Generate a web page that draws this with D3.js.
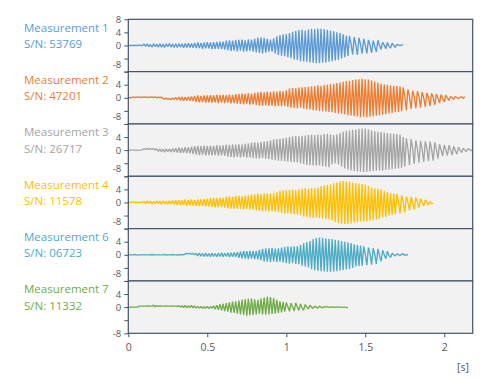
<!DOCTYPE html>
<html><head><meta charset="utf-8">
<script src="https://cdn.jsdelivr.net/npm/d3@7"></script>
<style>body{margin:0;background:#fff}svg{display:block}</style>
</head><body><svg id="c" width="491" height="378"></svg>
<script>
// ---- data ----
const seriesNames = ["Measurement 1","Measurement 2","Measurement 3","Measurement 4","Measurement 6","Measurement 7"];
const serialNumbers = ["53769","47201","26717","11578","06723","11332"];
const seriesColors = ["#5B9BD5","#ED7D31","#A5A5A5","#FFC000","#4BACC6","#70AD47"];
const sampleStep = 0.01; // seconds between read samples
const xTicks = [0,0.5,1,1.5,2];
const yTicks = [-8,-4,0,4,8];

const m1 = [0,0,0,0,0,0.1,-0.1,0.2,-0.1,0.1,
0.4,-0.3,0.5,-0.4,0.3,-0.5,0.5,-0.4,0.4,-0.5,
0.5,-0.5,0.4,-0.6,0.5,-0.4,0.6,-0.5,0.4,-0.6,
0.5,-0.6,0.6,-0.5,0.5,-0.7,0.6,-0.6,0.7,-0.6,
0.6,-0.7,0.8,-0.8,0.9,-0.8,0.8,-1.0,0.9,-0.9,
1.0,-0.9,0.9,-1.1,1.0,-1.0,1.1,-1.0,1.2,-1.1,
1.2,-1.3,1.5,-1.4,1.6,-1.7,1.5,-1.6,1.7,-1.8,
1.7,-1.6,1.8,-1.9,1.6,-1.8,1.9,-1.7,1.8,-1.9,
2.0,-2.1,2.4,-2.3,2.5,-2.4,2.3,-2.2,2.0,-1.9,
1.8,-1.9,2.2,-2.4,2.8,-2.9,3.2,-3.1,3.4,-3.3,
3.5,-3.6,3.8,-3.9,4.2,-4.3,4.5,-4.4,4.7,-4.8,
4.8,-4.9,4.6,-5.0,4.9,-5.2,5.1,-5.3,5.0,-5.4,
5.2,-5.4,5.1,-5.3,5.0,-5.2,4.8,-5.0,4.6,-4.8,
4.3,-4.6,4.0,-4.4,3.8,-4.0,3.4,-3.6,3.0,-3.2,
2.9,0.5,-2.8,2.6,0.2,-2.9,2.4,0.3,-2.5,2.0,
0.1,-2.4,1.7,0.2,-2.3,1.5,-0.2,-2.0,1.6,0.0,
-1.2,1.0,0.1,-1.0,0.9,-0.2,-0.8,0.7,0.0,-0.6,
0.3,0.2,-0.1,0.2,0.2];

const m2 = [0,0.1,0,0.3,0,0.3,0.1,0.3,0,0.3,
0.1,0.3,0,0.3,0.1,0.3,0,0.3,0,0.2,
0.1,0.2,-0.2,-0.4,-0.1,-0.5,-0.2,-0.6,-0.1,-0.5,
0.1,-0.6,0.2,-0.8,0.3,-0.9,0.2,-0.8,0.3,-0.9,
0.4,-1.0,0.6,-1.2,0.7,-1.4,0.6,-1.3,0.7,-1.5,
0.7,-1.4,0.8,-1.5,0.7,-1.4,0.9,-1.6,0.8,-1.5,
0.9,-1.6,0.8,-1.5,1.0,-1.7,0.9,-1.6,1.1,-1.8,
1.2,-1.9,1.3,-2.0,1.2,-1.8,1.4,-2.1,1.3,-2.0,
1.5,-2.2,1.7,-2.4,1.8,-2.5,1.7,-2.3,1.9,-2.5,
1.8,-2.4,2.0,-2.6,1.9,-2.5,2.1,-2.6,2.0,-2.5,
2.3,-2.8,2.8,-3.0,3.0,-3.1,2.9,-3.2,3.1,-3.0,
3.2,-3.3,3.3,-3.5,3.4,-3.6,3.5,-3.8,3.6,-3.9,
3.8,-4.0,3.7,-4.1,3.9,-4.2,4.0,-4.3,4.2,-4.4,
4.3,-4.6,4.5,-4.8,4.7,-4.9,4.9,-5.1,5.1,-5.3,
5.2,-5.4,5.4,-5.6,5.6,-5.8,5.7,-5.9,5.8,-5.8,
5.7,-5.9,5.6,-5.8,5.3,-5.6,5.0,-5.5,4.6,-5.3,
4.3,-5.2,4.1,-5.0,4.0,-4.8,3.8,-4.6,3.7,-4.4,
3.6,-4.3,3.5,-4.1,3.2,0.5,-3.8,2.6,0.3,-3.4,
2.2,0.2,-3.2,2.0,0.4,-3.0,1.8,0.0,-2.8,1.5,
0.2,-2.5,1.4,0.0,-2.2,1.2,-0.1,-1.6,1.0,-0.2,
-1.2,0.8,0.0,-0.8,0.4,0.1,-0.5,0.4,0.1,-0.3,
0.2,0.3,-0.1,0.3];

const m3 = [0,0,0,0,0,0,0,0,0,0.1,
0.5,0.2,0.6,0.1,0.5,0.2,0.6,0.0,0.4,-0.4,
0.4,-0.5,0.3,-0.6,0.4,-0.5,0.3,-0.6,0.5,-0.6,
0.6,-0.7,0.8,-0.9,0.7,-0.8,0.9,-0.9,0.8,-1.0,
1.0,-1.2,1.2,-1.4,1.3,-1.5,1.2,-1.4,1.4,-1.6,
1.3,-1.5,1.4,-1.6,1.3,-1.5,1.5,-1.7,1.4,-1.6,
1.5,-1.8,1.7,-2.0,1.6,-2.1,1.8,-2.2,1.7,-2.1,
1.8,-2.2,1.7,-2.1,1.9,-2.3,2.0,-2.2,2.3,-2.4,
2.4,-2.5,2.3,-2.6,2.5,-2.4,2.6,-2.6,2.8,-2.7,
3.0,-2.9,3.3,-3.1,3.4,-3.2,3.5,-3.3,3.6,-3.4,
3.8,-3.5,4.0,-3.6,4.2,-3.7,4.3,-3.8,4.2,-4.0,
4.4,-4.2,4.5,-4.5,4.6,-4.6,4.7,-4.7,4.6,-4.8,
4.8,-4.7,4.7,-4.9,4.9,-5.0,5.0,-5.2,4.8,-4.3,
4.6,-4.0,4.8,-4.4,5.2,-5.0,5.6,-5.6,5.9,-6.0,
6.0,-6.2,6.2,-6.4,6.3,-6.5,6.5,-6.6,6.6,-6.7,
6.5,-6.6,6.3,-6.5,6.0,-6.4,5.8,-6.3,5.6,-6.2,
5.5,-6.3,5.4,-6.1,5.2,-6.0,5.1,-5.8,5.0,-5.7,
4.9,-5.6,4.8,-5.4,4.0,-5.0,3.6,0.4,-4.6,3.4,
0.5,-4.2,3.0,0.3,-3.8,2.8,0.2,-3.6,2.7,0.4,
-3.4,2.6,0.1,-3.2,2.4,0.3,-2.6,1.8,0.0,-1.8,
1.6,0.1,-1.7,1.5,0.0,-1.5,1.2,-0.2,-1.2,0.9,
0.0,-0.7,0.6,0.0,-0.4,0.5,0.2,-0.2,0.3];

const m4 = [0,0,0,0.3,0,0,0,0,0,0.1,
0.3,-0.4,0.5,-0.3,0.4,-0.5,0.3,-0.4,0.5,-0.4,
0.4,-0.5,0.5,-0.4,0.4,-0.6,0.5,-0.5,0.6,-0.6,
0.7,-0.8,0.8,-0.9,0.7,-0.8,0.9,-1.0,0.8,-0.9,
0.9,-1.0,0.8,-1.0,0.9,-1.1,1.0,-1.0,1.1,-1.2,
1.2,-1.3,1.4,-1.4,1.3,-1.5,1.4,-1.5,1.5,-1.4,
1.4,-1.6,1.7,-1.8,1.9,-1.9,1.8,-2.0,2.0,-1.9,
2.0,-2.0,1.9,-2.1,2.1,-2.0,2.2,-2.1,2.4,-2.3,
2.5,-2.4,2.7,-2.6,2.6,-2.7,2.8,-2.6,2.7,-2.8,
2.8,-2.7,2.9,-2.8,3.2,-3.0,3.6,-3.2,3.8,-3.4,
3.7,-3.3,3.8,-3.5,3.9,-3.6,3.8,-3.7,4.0,-3.9,
4.2,-4.3,4.3,-4.5,4.2,-4.6,4.4,-4.7,4.3,-4.6,
4.6,-4.8,5.0,-5.0,5.2,-5.1,5.3,-5.2,5.5,-5.6,
5.9,-6.0,6.2,-6.3,6.5,-6.5,6.6,-6.6,6.5,-6.6,
6.3,-6.4,6.1,-6.2,5.9,-6.0,5.8,-5.9,5.6,-5.9,
5.4,-5.8,5.0,-5.6,4.6,-5.4,4.3,-5.2,4.2,-5.0,
4.0,-4.6,3.6,-4.4,3.2,-4.0,2.9,-3.8,2.7,-3.6,
2.6,0.2,-3.4,2.2,0.3,-3.0,1.8,0.1,-2.4,1.7,
0.0,-2.2,1.5,0.2,-1.6,1.2,-0.1,-1.0,0.8,0.0,
-0.8,0.3,-0.4,-0.2];

const m6 = [0,0,0,0,0.1,-0.1,0,0,0,0,
0,0,0,0,0,0.1,0,0,0,0,
0,0,0,0.1,-0.1,0,0,0,0.1,0,
0,-0.1,0.1,-0.1,0.1,0,0.2,0.4,0.3,0.4,
0.2,0.4,0.0,0.4,-0.3,0.5,-0.4,0.4,-0.5,0.5,
-0.5,0.4,-0.6,0.5,-0.5,0.4,-0.6,0.5,-0.5,0.6,
-0.6,0.5,-0.5,0.6,-0.7,0.6,-0.6,0.7,-0.6,0.8,
-0.9,1.0,-1.1,1.2,-1.2,1.1,-1.3,1.2,-1.2,1.1,
-1.3,1.2,-1.4,1.5,-1.6,1.8,-2.0,2.0,-2.1,2.0,
-2.2,2.1,-2.0,1.9,-2.2,2.0,-2.1,2.2,-2.3,2.4,
-2.5,2.6,-2.7,2.5,-2.6,2.6,-2.8,2.7,-2.9,3.0,
-3.3,3.5,-3.6,3.8,-3.9,4.2,-4.4,4.8,-4.7,5.1,
-4.9,5.3,-5.0,5.2,-5.1,5.0,-5.2,4.9,-5.2,4.8,
-5.1,4.6,-5.0,4.4,-4.8,4.2,-4.6,4.0,-4.5,3.8,
-4.3,3.6,-4.0,3.2,-3.6,3.0,-3.4,2.8,-3.3,2.6,
0.2,-3.2,2.2,0.4,-3.0,2.0,0.1,-2.8,1.8,-0.2,
-2.0,1.4,0.0,-1.2,1.1,-0.2,-0.8,0.5,0.1,-0.4,
0.3,0.1,-0.3,0.2,0.3,-0.2,0.1,0.0];

const m7 = [0,0,0,0,0,0,0,0.3,0.3,0.3,
0.3,0.3,0.3,0.4,0.3,0.3,0.6,0.1,0.5,0.2,
0.4,0.3,0.3,0.3,0.4,0.3,0.3,0.3,0.4,0.3,
0.3,0.2,0.5,0.0,0.4,-0.1,0.5,-0.2,0.4,-0.1,
0.5,-0.2,0.4,-0.3,0.2,-0.3,0.2,-0.4,0.1,-0.3,
0.2,-0.4,0.1,-0.3,0.4,-0.6,0.6,-0.8,0.9,-1.0,
1.0,-1.2,1.2,-1.4,1.5,-1.7,1.7,-1.8,1.8,-2.0,
2.0,-2.2,2.3,-2.4,2.5,-2.6,2.6,-2.5,2.7,-2.4,
2.4,-2.2,2.2,-2.0,2.6,-2.2,2.9,-2.3,3.2,-2.2,
3.1,-2.1,2.8,-2.0,2.2,-1.8,1.8,-1.6,1.6,-1.4,
1.4,0.2,-1.3,1.2,0.1,-1.2,1.3,0.0,-1.0,1.0,
-0.2,-0.9,0.8,0.0,-0.6,0.6,0.0,-0.4,0.3,0.0,
-0.3,0.3,0.0,-0.2,0.1,0.0,0.2,-0.1,0.0,0.1,
0.0,-0.1,0.0,0.1,0.0,-0.1,0.0,0.0,-0.1,-0.1];

const seriesValues = [m1,m2,m3,m4,m6,m7];

// ---- layout ----
const svg = d3.select("#c");
const plotLeft = 128.3, plotRight = 472.7, plotTop = 19.3, plotBottom = 333.3;
const nPanels = seriesValues.length;
const panelH = (plotBottom - plotTop) / nPanels;
const FONT = "'Open Sans', 'Segoe UI', sans-serif";
const axisColor = "#44546A", labelColor = "#595959";

const x = d3.scaleLinear().domain([0, 2.18]).range([plotLeft, plotRight]);

seriesValues.forEach((vals, k) => {
  const top = plotTop + k * panelH;
  const y = d3.scaleLinear().domain([-8, 8]).range([top + panelH, top]);
  const g = svg.append("g");

  g.append("rect").attr("x", plotLeft).attr("y", top)
    .attr("width", plotRight - plotLeft).attr("height", panelH)
    .attr("fill", "#F2F2F2");

  const clipId = "clip" + k;
  svg.append("clipPath").attr("id", clipId).append("rect")
    .attr("x", plotLeft).attr("y", top).attr("width", plotRight - plotLeft).attr("height", panelH);

  const line = d3.line().x((d, i) => x(i * sampleStep)).y(d => y(d));
  g.append("path").datum(vals).attr("d", line)
    .attr("fill", "none").attr("stroke", seriesColors[k])
    .attr("stroke-width", 1.35).attr("stroke-linejoin", "bevel")
    .attr("clip-path", `url(#${clipId})`);

  g.append("rect").attr("x", plotLeft).attr("y", top)
    .attr("width", plotRight - plotLeft).attr("height", panelH)
    .attr("fill", "none").attr("stroke", axisColor).attr("stroke-width", 1.2);

  const ax = d3.axisLeft(y).tickValues(yTicks).tickSize(4).tickPadding(3)
    .tickFormat(d => String(d));
  const ag = g.append("g").attr("transform", `translate(${plotLeft},0)`).call(ax);
  ag.select(".domain").remove();
  ag.selectAll(".tick line").attr("stroke", axisColor).attr("stroke-width", 1);
  ag.selectAll(".tick text").filter(d => d === -4 || (d === 8 && k > 0)).remove();
  ag.selectAll(".tick text").attr("fill", labelColor).style("font-family", FONT).style("font-size", "9.5px");
  if (k < nPanels - 1) {
    ag.selectAll(".tick text").filter(d => d === -8).attr("y", -7.5);
  }

  g.append("text").attr("x", 24).attr("y", top + 12.5)
    .attr("fill", seriesColors[k]).style("font-family", FONT).style("font-size", "11.5px")
    .text(seriesNames[k]);
  g.append("text").attr("x", 24).attr("y", top + 28.7)
    .attr("fill", seriesColors[k]).style("font-family", FONT).style("font-size", "11.5px")
    .text("S/N: " + serialNumbers[k]);
});

const xAxis = d3.axisBottom(x).tickValues(xTicks).tickSize(4).tickPadding(6).tickFormat(d => String(d));
const xg = svg.append("g").attr("transform", `translate(0,${plotBottom})`).call(xAxis);
xg.select(".domain").remove();
xg.selectAll(".tick line").attr("stroke", axisColor);
xg.selectAll(".tick text").attr("fill", labelColor).style("font-family", FONT).style("font-size", "10.5px");

svg.append("text").attr("x", 463).attr("y", 371).attr("text-anchor", "middle")
  .attr("fill", labelColor).style("font-family", FONT).style("font-size", "10.5px").text("[s]");
</script></body></html>
